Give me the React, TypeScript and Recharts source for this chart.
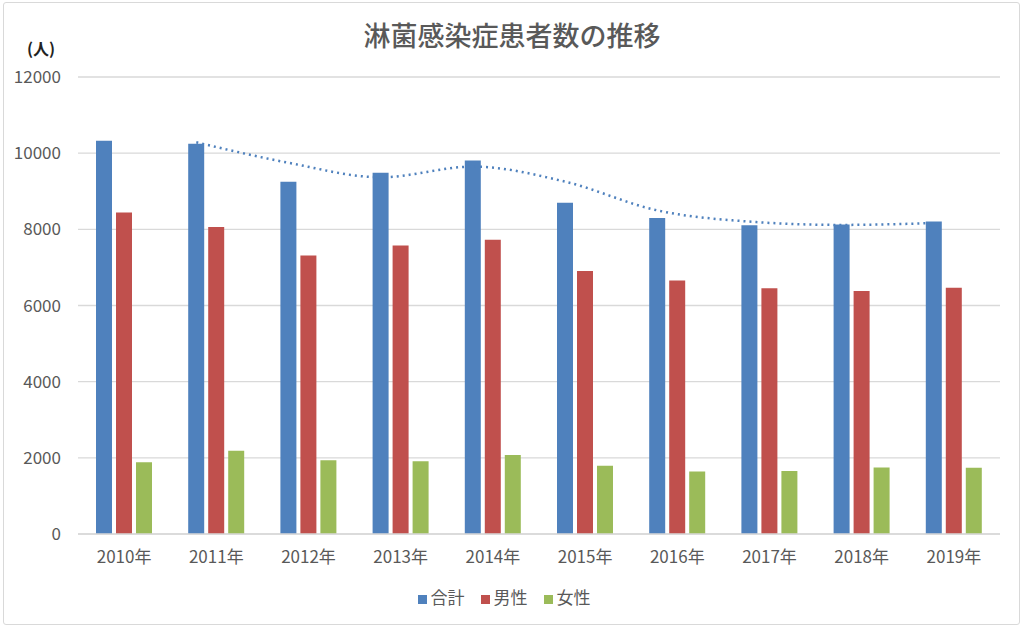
import { Bar, CartesianGrid, ComposedChart, Legend, Line, XAxis, YAxis } from "recharts";

const years = ["2010年", "2011年", "2012年", "2013年", "2014年", "2015年", "2016年", "2017年", "2018年", "2019年"];
const total = [10327, 10247, 9248, 9488, 9805, 8698, 8298, 8107, 8125, 8205];
const male = [8444, 8064, 7312, 7575, 7728, 6906, 6654, 6452, 6378, 6467];
const female = [1883, 2183, 1936, 1913, 2077, 1792, 1644, 1655, 1747, 1738];
// 2区間移動平均（合計）
const trend = [null, 10287, 9748, 9368, 9647, 9252, 8498, 8203, 8116, 8165];
const yTicks = [0, 2000, 4000, 6000, 8000, 10000, 12000];

const data = years.map((year, i) => ({
  year,
  total: total[i],
  male: male[i],
  female: female[i],
  trend: trend[i],
}));

const FONT = '"Noto Sans CJK JP", "Noto Sans", sans-serif';
const GRAY = "#595959";

export default function App() {
  return (
    <div style={{ position: "relative", width: 1024, height: 628, fontFamily: FONT, background: "#fff" }}>
      <style>{`body{margin:0} .trend-line{transform:translateX(-20px)}`}</style>
      <div
        style={{
          position: "absolute",
          left: 3,
          top: 2,
          width: 1015,
          height: 621,
          border: "1.5px solid #d9d9d9",
          borderRadius: 3,
        }}
      />
      <div
        style={{
          position: "absolute",
          top: 17,
          left: 0,
          width: 1024,
          textAlign: "center",
          fontSize: 27,
          fontWeight: 500,
          color: GRAY,
          lineHeight: "36px",
        }}
      >
        淋菌感染症患者数の推移
      </div>
      <div
        style={{
          position: "absolute",
          top: 36,
          left: 27,
          fontSize: 16,
          fontWeight: 700,
          color: "#222",
          lineHeight: "24px",
        }}
      >
        (人)
      </div>
      <ComposedChart
        width={1024}
        height={628}
        data={data}
        margin={{ top: 77, right: 24, left: 18, bottom: 64 }}
        barSize={16}
        barGap={4}
        style={{ position: "absolute", top: 0, left: 0 }}
      >
        <CartesianGrid vertical={false} stroke="#d9d9d9" strokeWidth={1.3} />
        <XAxis
          dataKey="year"
          height={30}
          axisLine={{ stroke: "#d9d9d9", strokeWidth: 1.3 }}
          tickLine={false}
          tickMargin={11}
          tick={{ fill: GRAY, fontSize: 17, fontFamily: FONT }}
        />
        <YAxis
          width={60}
          domain={[0, 12000]}
          ticks={yTicks}
          axisLine={false}
          tickLine={false}
          tickMargin={11}
          tick={{ fill: GRAY, fontSize: 17, fontFamily: FONT }}
        />
        <Legend
          verticalAlign="middle"
          align="center"
          iconType="square"
          iconSize={9}
          itemSorter={null}
          wrapperStyle={{ top: 584, left: 0, width: 1024 }}
          formatter={(value) => (
            <span style={{ color: GRAY, fontSize: 17, fontFamily: FONT, marginRight: 6 }}>{value}</span>
          )}
        />
        <Bar dataKey="total" name="合計" fill="#4F81BD" isAnimationActive={false} />
        <Bar dataKey="male" name="男性" fill="#C0504D" isAnimationActive={false} />
        <Bar dataKey="female" name="女性" fill="#9BBB59" isAnimationActive={false} />
        <Line
          dataKey="trend"
          className="trend-line"
          type="monotone"
          stroke="#4F81BD"
          strokeWidth={2.5}
          strokeDasharray="2 4"
          dot={false}
          activeDot={false}
          legendType="none"
          connectNulls={false}
          isAnimationActive={false}
        />
      </ComposedChart>
    </div>
  );
}
